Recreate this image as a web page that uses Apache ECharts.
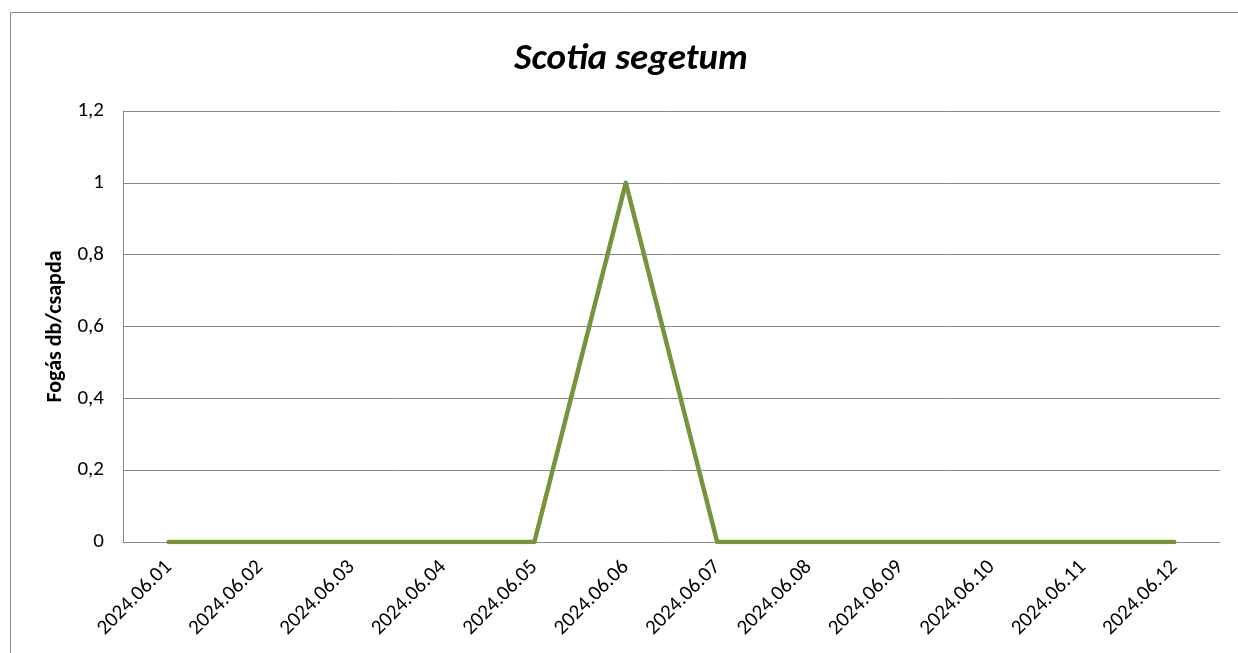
<!DOCTYPE html>
<html>
<head>
<meta charset="utf-8">
<script src="https://cdn.jsdelivr.net/npm/echarts@6/dist/echarts.min.js"></script>
<style>html,body{margin:0;padding:0;background:#fff}#c{width:1238px;height:653px}</style>
</head>
<body>
<div id="c"></div>
<script>
const categories = ['2024.06.01','2024.06.02','2024.06.03','2024.06.04','2024.06.05','2024.06.06','2024.06.07','2024.06.08','2024.06.09','2024.06.10','2024.06.11','2024.06.12'];
const catchValues = [0,0,0,0,0,1,0,0,0,0,0,0];
const titleText = 'Scotia segetum';
const yAxisName = 'Fogás db/csapda';

const chart = echarts.init(document.getElementById('c'), null, {renderer:'canvas'});
const fnt = "Carlito, 'Open Sans', 'Noto Sans', sans-serif";
chart.setOption({
  animation:false,
  backgroundColor:'#fff',
  title:{
    text:titleText, left:626, textAlign:'center', top:36,
    textStyle:{fontFamily:fnt, fontStyle:'italic', fontWeight:'bold', fontSize:37, color:'#000'}
  },
  graphic:[{type:'rect', shape:{x:10.5,y:12.5,width:1300,height:700}, style:{fill:null, stroke:'#888', lineWidth:1}, silent:true}],
  grid:{left:123, right:18, top:111, bottom:111},
  xAxis:{
    type:'category', data:categories, boundaryGap:true,
    axisLine:{lineStyle:{color:'#888', width:1}},
    axisTick:{show:false},
    axisLabel:{rotate:45, margin:22, fontFamily:fnt, fontSize:21, color:'#000'}
  },
  yAxis:{
    type:'value', min:0, max:1.2, interval:0.2,
    name:yAxisName, nameLocation:'middle', nameGap:52, nameRotate:90,
    nameTextStyle:{fontFamily:fnt, fontWeight:'bold', fontSize:22, color:'#000'},
    axisLine:{show:true, lineStyle:{color:'#888', width:1}},
    axisTick:{show:false},
    splitLine:{lineStyle:{color:'#888', width:1}},
    axisLabel:{margin:19, fontFamily:fnt, fontSize:21, color:'#000',
      formatter:v=>String(Math.round(v*10)/10).replace('.',',')}
  },
  series:[{
    type:'line', data:catchValues, symbol:'none',
    lineStyle:{color:'#77933C', width:4.5, cap:'round', join:'round'}
  }]
});
</script>
</body>
</html>
